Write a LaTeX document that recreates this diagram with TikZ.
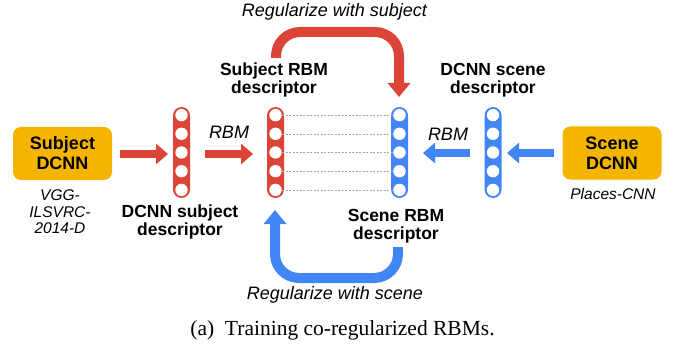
\documentclass[tikz,border=0pt]{standalone}
\usepackage{fontspec}
\setmainfont{Liberation Serif}
\setsansfont{Liberation Sans}
\usetikzlibrary{arrows.meta}
\definecolor{gred}{HTML}{DB4437}
\definecolor{gblue}{HTML}{4285F4}
\definecolor{gyellow}{HTML}{F4B400}
\tikzset{
  bigbox/.style={fill=gyellow, rounded corners=8pt, minimum width=99pt, minimum height=53pt, align=center, font=\sffamily\bfseries\fontsize{18}{20}\selectfont, inner sep=0pt},
  lbl/.style={align=center, font=\sffamily\bfseries\fontsize{17.5}{18.5}\selectfont, inner sep=0pt},
  itl/.style={align=center, font=\sffamily\itshape\fontsize{18}{18}\selectfont, inner sep=0pt},
  smallitl/.style={align=center, font=\sffamily\itshape\fontsize{15.5}{16.5}\selectfont, inner sep=0pt},
  fatarrow/.style={line width=8pt, -{Triangle[width=20pt,length=12pt]}},
  curvearrow/.style={line width=10pt, rounded corners=24pt, -{Triangle[width=22pt,length=14pt]}},
  dots/.style={gray!70, line width=0.5pt, dash pattern=on 2pt off 1.5pt},
}
\newcommand{\neuralcol}[3]{%
  \fill[#3, rounded corners=8.5pt] (#1-8.5,#2-45.5) rectangle (#1+8.5,#2+45.5);
  \foreach \k in {-2,...,2} {\fill[white] (#1,#2+\k*18.7) circle (6.2pt);}
}
\begin{document}
\begin{tikzpicture}[x=1pt,y=-1pt]
\useasboundingbox (0,0) rectangle (681,345);
% columns
\neuralcol{181.5}{152.5}{gred}
\neuralcol{275.5}{152.5}{gred}
\neuralcol{399.5}{152.5}{gblue}
\neuralcol{493}{152.5}{gblue}
\coordinate (c1) at (181.5,152.5);
\coordinate (c2) at (275.5,152.5);
\coordinate (c3) at (399.5,152.5);
\coordinate (c4) at (493,152.5);
% dashed connections
\foreach \k in {-2,...,2} {
  \draw[dots] (282,152.5+\k*18.7) -- (393,152.5+\k*18.7);
}
% boxes
\node[bigbox] (sd) at (62.5,153.5) {Subject\\DCNN};
\node[bigbox] (scd) at (612,153) {Scene\\DCNN};
\node[smallitl] (vgg) at (60,212) {VGG-\\ILSVRC-\\2014-D};
\node[smallitl] (pl) at (613,194) {Places-CNN};
% labels
\node[lbl] (l1) at (180,222) {DCNN subject\\descriptor};
\node[lbl] (l2) at (274,80) {Subject RBM\\descriptor};
\node[lbl] (l3) at (396,226) {Scene RBM\\descriptor};
\node[lbl] (l4) at (493,80) {DCNN scene\\descriptor};
\node[itl] (r1) at (229,132) {RBM};
\node[itl] (r2) at (448,134) {RBM};
\node[itl] (t1) at (334.5,12) {Regularize with subject};
\node[itl] (t2) at (335,295) {Regularize with scene};
% straight arrows
\coordinate (a1s) at (120,154); \coordinate (a1e) at (168,154);
\coordinate (a2s) at (205,154); \coordinate (a2e) at (253,154);
\coordinate (b1s) at (470,153); \coordinate (b1e) at (423,153);
\coordinate (b2s) at (554,153); \coordinate (b2e) at (507,153);
\draw[fatarrow, gred] (a1s) -- (a1e);
\draw[fatarrow, gred] (a2s) -- (a2e);
\draw[fatarrow, gblue] (b1s) -- (b1e);
\draw[fatarrow, gblue] (b2s) -- (b2e);
% curved arrows
\coordinate (rs) at (276,58);
\coordinate (re) at (399,97);
\draw[curvearrow, gred] (rs) -- (276,32) -- (399,32) -- (re);
\coordinate (bs) at (398,247);
\coordinate (be) at (275,210);
\draw[curvearrow, gblue] (bs) -- (398,278) -- (275,278) -- (be);
% caption
\node[font=\fontsize{21.5}{24}\selectfont, inner sep=0pt] (cap) at (342.5,330) {(a)\hspace{0.5em}Training co-regularized RBMs.};
\end{tikzpicture}
\end{document}
